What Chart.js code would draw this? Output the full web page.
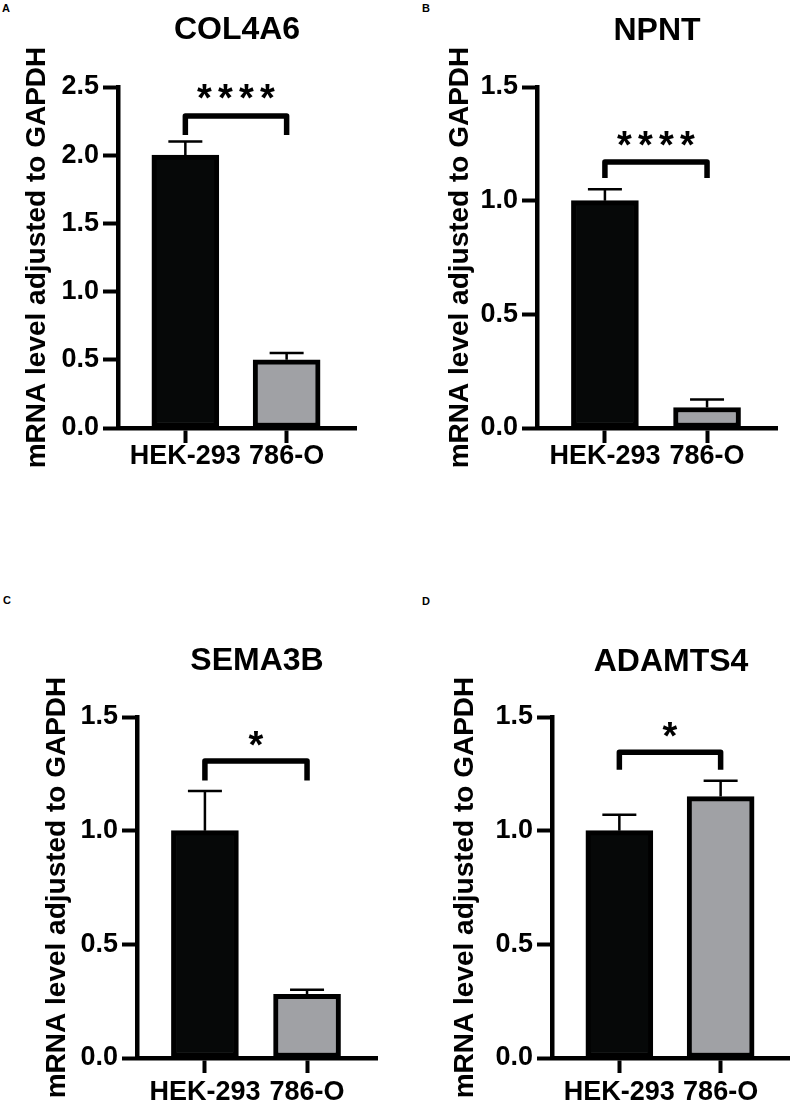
<!DOCTYPE html>
<html>
<head>
<meta charset="utf-8">
<script src="https://cdn.jsdelivr.net/npm/chart.js@4.4.1/dist/chart.umd.min.js"></script>
<style>
  body { margin: 0; background: #fff; }
  #page { position: relative; width: 790px; height: 1101px; overflow: hidden; font-family: "Liberation Sans", Arial, sans-serif; }
  canvas { position: absolute; }
  .tag { position: absolute; font-weight: bold; font-size: 11px; line-height: 11px; color: #000; }
</style>
</head>
<body>
<div id="page">
  <div class="tag" style="left:2px;top:3px">A</div>
  <div class="tag" style="left:422px;top:3px">B</div>
  <div class="tag" style="left:3px;top:595px">C</div>
  <div class="tag" style="left:422px;top:596px">D</div>
  <canvas id="chartA" width="395" height="480" style="left:0;top:0"></canvas>
  <canvas id="chartB" width="390" height="480" style="left:400px;top:0"></canvas>
  <canvas id="chartC" width="395" height="541" style="left:0;top:560px"></canvas>
  <canvas id="chartD" width="390" height="541" style="left:400px;top:560px"></canvas>
</div>
<script>
// cell lines
var groups = ['HEK-293', '786-O'];

// mean and SEM per gene
var col4a6 = [2.00, 0.50];
var col4a6Sem = [0.10, 0.05];
var npnt = [1.00, 0.09];
var npntSem = [0.05, 0.035];
var sema3b = [1.00, 0.28];
var sema3bSem = [0.175, 0.02];
var adamts4 = [1.00, 1.15];
var adamts4Sem = [0.07, 0.07];

// y tick steps
var yTicksCol4a6 = [0, 0.5, 1.0, 1.5, 2.0, 2.5];
var yTicksOther = [0, 0.5, 1.0, 1.5];

var FONT = 'Liberation Sans';
Chart.defaults.font.family = FONT;
Chart.defaults.color = '#000';

var barColors = ['#060808', '#a0a1a5'];

// error bars, significance bracket, title
var extras = {
  id: 'extras',
  afterDraw: function (chart) {
    var o = chart.options.plugins.extras;
    var ctx = chart.ctx;
    var xs = chart.scales.x, ys = chart.scales.y;
    var vals = chart.data.datasets[0].data;
    ctx.save();
    ctx.strokeStyle = '#000';
    ctx.fillStyle = '#000';

    // error bars (upper)
    ctx.lineWidth = 2.5;
    vals.forEach(function (p, i) {
      var x = xs.getPixelForValue(p.x);
      var y0 = ys.getPixelForValue(p.y);
      var y1 = ys.getPixelForValue(p.y + o.sem[i]);
      ctx.beginPath();
      ctx.moveTo(x, y0);
      ctx.lineTo(x, y1);
      ctx.moveTo(x - 17, y1);
      ctx.lineTo(x + 17, y1);
      ctx.stroke();
    });

    // bracket
    var xa = xs.getPixelForValue(1), xb = xs.getPixelForValue(2);
    var yTop = ys.getPixelForValue(o.bracket[0]);
    var yLeg = ys.getPixelForValue(o.bracket[1]);
    ctx.lineWidth = 5.5;
    ctx.lineJoin = 'round';
    ctx.beginPath();
    ctx.moveTo(xa, yLeg);
    ctx.lineTo(xa, yTop);
    ctx.lineTo(xb, yTop);
    ctx.lineTo(xb, yLeg);
    ctx.stroke();

    // stars
    var sy = ys.getPixelForValue(o.bracket[2]);
    ctx.font = 'bold 38px ' + FONT;
    ctx.textAlign = 'center';
    ctx.textBaseline = 'alphabetic';
    var n = o.stars.length, cx = (xa + xb) / 2;
    for (var k = 0; k < n; k++) {
      ctx.fillText('*', cx + (k - (n - 1) / 2) * 21, sy + 18);
    }

    // title
    ctx.font = 'bold 32px ' + FONT;
    ctx.textBaseline = 'middle';
    ctx.fillText(o.title, (chart.chartArea.left + chart.chartArea.right) / 2, o.titleY);
    ctx.restore();
  }
};

function makePanel(id, title, values, sem, yTicks, stars, bracket, g) {
  var yMax = yTicks[yTicks.length - 1];
  return new Chart(document.getElementById(id), {
    type: 'bar',
    data: {
      datasets: [{
        data: values.map(function (v, i) { return { x: i + 1, y: v }; }),
        backgroundColor: barColors,
        borderColor: '#000',
        borderWidth: 5,
        borderSkipped: false,
        barThickness: 67
      }]
    },
    options: {
      responsive: false,
      animation: false,
      events: [],
      layout: { padding: { top: g.padTop, right: g.padRight, left: 0, bottom: 0 } },
      plugins: {
        legend: { display: false },
        tooltip: { enabled: false },
        extras: { title: title, titleY: g.titleY, sem: sem, stars: stars, bracket: bracket }
      },
      scales: {
        x: {
          type: 'linear',
          min: 0.335,
          max: 2.685,
          offset: false,
          grid: { offset: false, drawOnChartArea: false, drawTicks: true, tickLength: 15, tickWidth: 4, tickColor: '#000' },
          border: { display: true, color: '#000', width: 4.5 },
          afterBuildTicks: function (s) {
            s.ticks = groups.map(function (gname, i) { return { value: i + 1 }; });
          },
          ticks: {
            autoSkip: false,
            maxRotation: 0,
            padding: g.xPad,
            color: '#000',
            font: { size: 27, weight: 'bold', lineHeight: 1 },
            callback: function (v) { return groups[v - 1]; }
          },
          afterFit: function (s) { s.height = g.xHeight; }
        },
        y: {
          min: 0,
          max: yMax,
          grid: { drawOnChartArea: false, drawTicks: true, tickLength: 15, tickWidth: 4, tickColor: '#000' },
          border: { display: true, color: '#000', width: 4.5 },
          afterBuildTicks: function (s) {
            s.ticks = yTicks.map(function (t) { return { value: t }; });
          },
          ticks: {
            padding: 4,
            color: '#000',
            font: { size: 27, weight: 'bold' },
            callback: function (v) { return v.toFixed(1); }
          },
          title: {
            display: true,
            text: 'mRNA level adjusted to GAPDH',
            color: '#000',
            font: { size: 28, weight: 'bold', lineHeight: 1 },
            padding: { top: g.titlePad, bottom: 0 }
          },
          afterFit: function (s) { s.width = g.yWidth; }
        }
      }
    },
    plugins: [extras]
  });
}

makePanel('chartA', 'COL4A6', col4a6, col4a6Sem, yTicksCol4a6, '****', [2.287, 2.148, 2.456],
  { padTop: 87, padRight: 39, yWidth: 118, xHeight: 52, xPad: 0, titlePad: 23, titleY: 30 });
makePanel('chartB', 'NPNT', npnt, npntSem, yTicksOther, '****', [1.170, 1.100, 1.267],
  { padTop: 87, padRight: 13, yWidth: 137, xHeight: 52, xPad: 0, titlePad: 46, titleY: 31 });
makePanel('chartC', 'SEMA3B', sema3b, sema3bSem, yTicksOther, '*', [1.306, 1.221, 1.397],
  { padTop: 157, padRight: 18, yWidth: 137, xHeight: 43, xPad: 6, titlePad: 43, titleY: 101 });
makePanel('chartD', 'ADAMTS4', adamts4, adamts4Sem, yTicksOther, '*', [1.345, 1.268, 1.440],
  { padTop: 157, padRight: 0, yWidth: 152, xHeight: 43, xPad: 6, titlePad: 51, titleY: 102 });
</script>
</body>
</html>
